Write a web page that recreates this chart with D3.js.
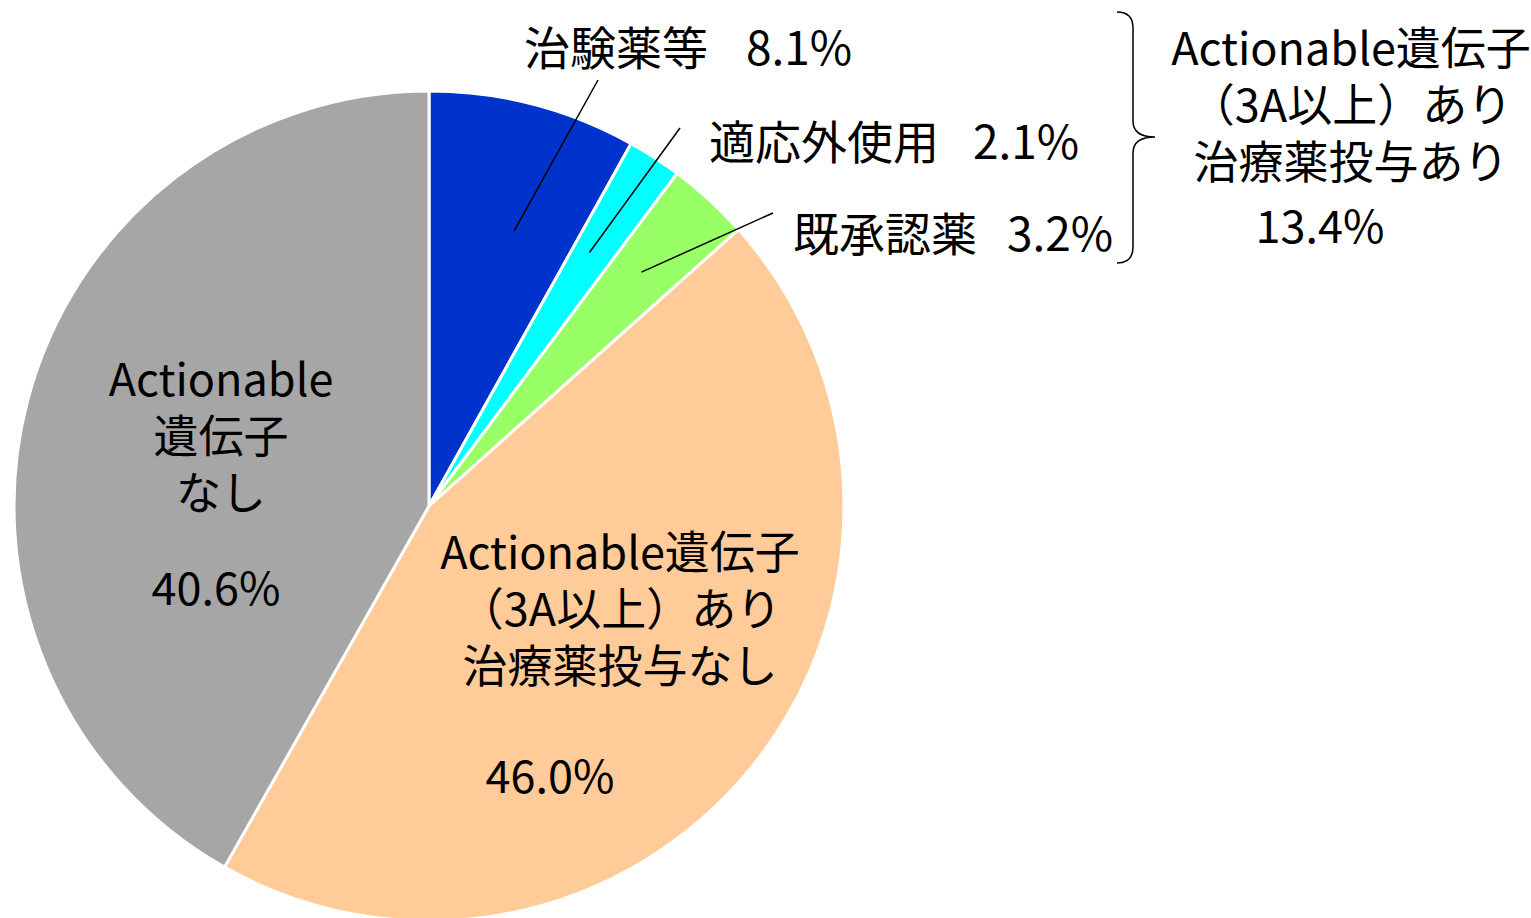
<!DOCTYPE html>
<html>
<head>
<meta charset="utf-8">
<script src="https://cdn.jsdelivr.net/npm/d3@7"></script>
<style>
  body { margin: 0; background: #fff; }
  text { font-family: "Noto Sans CJK JP", "Noto Sans", sans-serif; fill: #000; }
</style>
</head>
<body>
<script>
// slices, clockwise from 12 o'clock
var categories = ["治験薬等", "適応外使用", "既承認薬", "Actionable遺伝子（3A以上）あり治療薬投与なし", "Actionable遺伝子なし"];
// printed percentages
var labels = [8.1, 2.1, 3.2, 46.0, 40.6];
// slice sizes as drawn in the picture (the last two differ a bit from the printed labels)
var shares = [8.1, 2.1, 3.2, 44.8, 41.8];
var colors = ["#0033CC", "#00FFFF", "#99FF66", "#FFCC99", "#A6A6A6"];

// lines of the big in-slice labels
var peachLines = ["Actionable遺伝子", "（3A以上）あり", "治療薬投与なし"];
var grayLines = ["Actionable", "遺伝子", "なし"];
var groupLines = ["Actionable遺伝子", "（3A以上）あり", "治療薬投与あり"];

const W = 1531, H = 918;
const cx = 429, cy = 506, radius = 415;
const fs = 45;

const svg = d3.select("body")
  .append("svg")
  .attr("width", W)
  .attr("height", H);

const g = svg.append("g")
  .attr("transform", "translate(" + cx + "," + cy + ")");

var pie = d3.pie().sort(null);
var arc = d3.arc().innerRadius(0).outerRadius(radius);
var arcs = pie(shares);

g.selectAll("path.slice")
  .data(arcs)
  .enter()
  .append("path")
  .attr("class", "slice")
  .attr("fill", function(d, i) { return colors[i]; })
  .attr("stroke", "#fff")
  .attr("stroke-width", 3)
  .attr("stroke-linejoin", "round")
  .attr("d", arc);

var fmt = d3.format(".1f");

// small slices: label outside with a leader line
// t = where in the slice the leader starts, r = its radius
var outside = [
  { t: 0.59, r: 288, end: [598, 80],  x: 524, y: 65,  gap: 38 },
  { t: 0.42, r: 300, end: [680, 128], x: 709, y: 159, gap: 34 },
  { t: 0.48, r: 316, end: [773, 213], x: 793, y: 251, gap: 30 }
];

outside.forEach(function(o, i) {
  var d = arcs[i];
  var a = d.startAngle + o.t * (d.endAngle - d.startAngle);
  var x0 = cx + o.r * Math.sin(a), y0 = cy - o.r * Math.cos(a);
  svg.append("line")
    .attr("x1", x0).attr("y1", y0)
    .attr("x2", o.end[0]).attr("y2", o.end[1])
    .attr("stroke", "#000")
    .attr("stroke-width", 1.5);
  var t = svg.append("text")
    .attr("x", o.x)
    .attr("y", o.y)
    .attr("font-size", 46)
    .text(categories[i]);
  t.append("tspan")
    .attr("dx", o.gap)
    .text(fmt(labels[i]) + "%");
});

function block(lines, x, y0, step) {
  lines.forEach(function(t, k) {
    svg.append("text")
      .attr("x", x)
      .attr("y", y0 + k * step)
      .attr("text-anchor", "middle")
      .attr("font-size", fs)
      .text(t);
  });
}

// gray slice
block(grayLines, 221, 396, 57);
svg.append("text").attr("x", 216).attr("y", 605).attr("text-anchor", "middle")
  .attr("font-size", fs).text(fmt(labels[4]) + "%");

// peach slice
block(peachLines, 620, 569, 57);
svg.append("text").attr("x", 550).attr("y", 793).attr("text-anchor", "middle")
  .attr("font-size", fs).text(fmt(labels[3]) + "%");

// bracket over the three treated groups
svg.append("path")
  .attr("d", "M1117,12 Q1133,12 1133,28 L1133,121 Q1133,137 1155,137 Q1133,137 1133,153 L1133,247 Q1133,263 1117,263")
  .attr("fill", "none")
  .attr("stroke", "#000")
  .attr("stroke-width", 1.5);

var treated = d3.sum(labels.slice(0, 3));
block(groupLines, 1351, 65, 57);
svg.append("text").attr("x", 1320).attr("y", 243).attr("text-anchor", "middle")
  .attr("font-size", fs).text(fmt(treated) + "%");
</script>
</body>
</html>
